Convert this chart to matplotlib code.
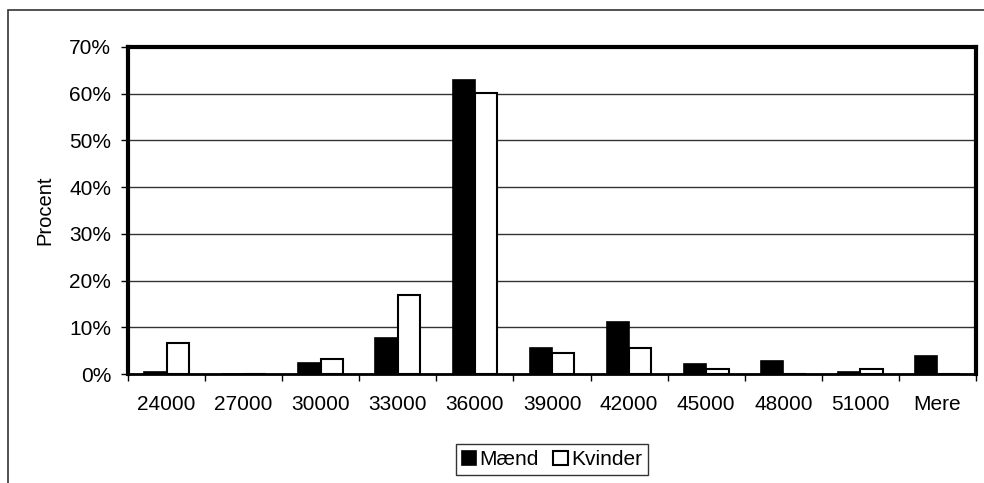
import numpy as np
import matplotlib
matplotlib.use("Agg")
import matplotlib.pyplot as plt
from matplotlib.patches import Rectangle
from matplotlib.ticker import FuncFormatter, MultipleLocator

plt.rcParams['font.family'] = ['Liberation Sans', 'DejaVu Sans']

# data (percent)
categories = ['24000', '27000', '30000', '33000', '36000', '39000',
              '42000', '45000', '48000', '51000', 'Mere']
maend = [0.5, 0.0, 2.3, 7.8, 63.0, 5.5, 11.1, 2.2, 2.7, 0.5, 3.9]
kvinder = [6.7, 0.0, 3.3, 17.0, 60.2, 4.4, 5.6, 1.1, 0.0, 1.1, 0.0]

fs = 15

fig = plt.figure(figsize=(9.84, 4.83), dpi=100)

# outer chart frame (cut off at right and bottom)
fig.patches.append(Rectangle((8 / 984, -0.1), 1.2, (483 - 10) / 483 + 0.1,
                             transform=fig.transFigure, fill=False,
                             edgecolor='#333333', linewidth=1.2))

ax = fig.add_axes([128 / 984, (483 - 374) / 483, 848 / 984, 327 / 483])

x = np.arange(len(categories))
w = 0.29
ax.bar(x - w / 2, maend, w, color='black', edgecolor='black',
       linewidth=1.2, label='Mænd', zorder=3)
ax.bar(x + w / 2, kvinder, w, color='white', edgecolor='black',
       linewidth=1.5, label='Kvinder', zorder=3)

ax.set_xlim(-0.5, len(categories) - 0.5)
ax.set_ylim(0, 70)
ax.yaxis.set_major_locator(MultipleLocator(10))
ax.yaxis.set_major_formatter(FuncFormatter(lambda v, p: f'{v:.0f}%'))
ax.grid(axis='y', color='#333333', linewidth=1.0, zorder=0)

# category ticks at boundaries, labels centred
ax.set_xticks(np.arange(len(categories) + 1) - 0.5)
ax.set_xticklabels([])
ax.set_xticks(x, minor=True)
ax.set_xticklabels(categories, minor=True)
ax.tick_params(axis='x', which='major', direction='out', length=5, width=1)
ax.tick_params(axis='x', which='minor', length=0, pad=15, labelsize=fs)
ax.tick_params(axis='y', direction='out', length=5, width=1, labelsize=fs,
               pad=7)

for side in ['left', 'top', 'right']:
    ax.spines[side].set_linewidth(3)
ax.spines['bottom'].set_linewidth(2)

ax.set_ylabel('Procent', fontsize=14.5, labelpad=11)

leg = ax.legend(loc='upper center', bbox_to_anchor=(0.5, -0.215), ncol=2,
                frameon=True, fancybox=False, edgecolor='black',
                fontsize=15, handlelength=0.7, handleheight=0.7,
                handletextpad=0.15, columnspacing=0.7, borderpad=0.28,
                borderaxespad=0)
leg.get_frame().set_linewidth(1.0)

fig.savefig('out.png', dpi=100)
